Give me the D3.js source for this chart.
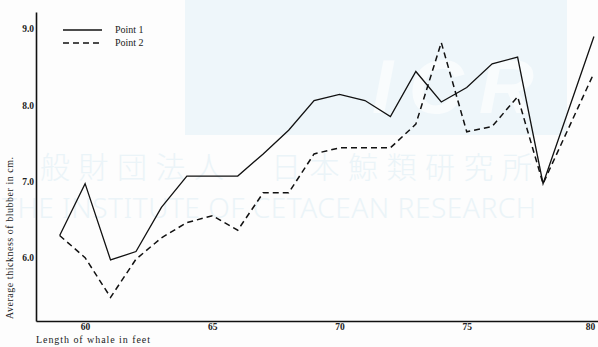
<!DOCTYPE html>
<html>
<head>
<meta charset="utf-8">
<script src="https://cdn.jsdelivr.net/npm/d3@7"></script>
<style>
  body { margin: 0; background: #fdfdfd; }
  svg { display: block; }
  .tick-lbl { font-family: "Liberation Serif", serif; font-size: 9.5px; font-weight: bold; fill: #222; }
  .ax-lbl { font-family: "Liberation Serif", serif; font-size: 10px; fill: #222; }
</style>
</head>
<body>
<svg id="chart" width="598" height="347"></svg>
<script>
// lengths of whale (feet) and blubber thickness (cm)
const lengths = [59, 60, 61, 62, 63, 64, 65, 66, 67, 68, 69, 70, 71, 72, 73, 74, 75, 76, 77, 78, 80];
const point1 = [6.29, 6.97, 5.97, 6.08, 6.66, 7.07, 7.07, 7.07, 7.36, 7.67, 8.06, 8.14, 8.06, 7.85, 8.44, 8.04, 8.23, 8.54, 8.63, 6.97, 8.90];
const point2 = [6.29, 6.00, 5.48, 5.98, 6.26, 6.46, 6.55, 6.36, 6.85, 6.85, 7.36, 7.44, 7.44, 7.44, 7.75, 8.82, 7.65, 7.72, 8.11, 6.97, 8.42];
const xTicks = [60, 65, 70, 75, 80];
const yTicks = [6.0, 7.0, 8.0, 9.0];
const seriesNames = ["Point 1", "Point 2"];

const svg = d3.select("#chart");

// faint watermark from the scan
let wm = svg.append("g");
wm.append("rect").attr("x", 185).attr("y", 0).attr("width", 382).attr("height", 135)
    .attr("fill", "#eef6fa");
wm.append("text").attr("x", 372).attr("y", 113)
    .attr("font-family", "Liberation Sans, sans-serif").attr("font-weight", "bold")
    .attr("font-style", "italic").attr("font-size", 76).attr("fill", "#f9fcfd")
    .attr("textLength", 162).text("ICR");
wm.append("text").attr("x", 40).attr("y", 178)
    .attr("font-family", "Noto Sans CJK JP").attr("font-weight", 300)
    .attr("font-size", 30).attr("fill", "#ebf4f8")
    .attr("textLength", 492).text("般財団法人　日本鯨類研究所");
wm.append("text").attr("x", 2).attr("y", 218)
    .attr("font-family", "Noto Sans").attr("font-weight", 300)
    .attr("font-size", 28).attr("fill", "#ebf4f8")
    .attr("textLength", 534).text("THE INSTITUTE OF CETACEAN RESEARCH");

let x = d3.scaleLinear().domain([58.07, 80.16]).range([36, 598]);
let y = d3.scaleLinear().domain([5.17, 9.22]).range([321, 12]);

// axes
let xAxis = d3.axisBottom(x).tickValues(xTicks).tickSize(0).tickPadding(2)
    .tickFormat(d3.format("d"));
let yAxis = d3.axisLeft(y).tickValues(yTicks).tickSize(0).tickPadding(2)
    .tickFormat(d3.format(".1f"));

let gx = svg.append("g").attr("transform", "translate(0," + 321 + ")").call(xAxis);
gx.select(".domain").attr("stroke", "#111").attr("stroke-width", 1.6);
gx.selectAll("text").attr("class", "tick-lbl").attr("font-size", null).attr("font-family", null)
    .attr("dx", d => d === 80 ? -4 : 0);

let gy = svg.append("g").attr("transform", "translate(36,0)").call(yAxis);
gy.select(".domain").attr("stroke", "#111").attr("stroke-width", 1.6);
gy.selectAll("text").attr("class", "tick-lbl").attr("font-size", null).attr("font-family", null);

// lines
let data = [
    lengths.map((l, i) => ({len: l, v: point1[i]})),
    lengths.map((l, i) => ({len: l, v: point2[i]}))
];
let line = d3.line().x(d => x(d.len)).y(d => y(d.v));

svg.selectAll(".series")
    .data(data)
    .enter().append("path")
    .attr("class", "series")
    .attr("fill", "none")
    .attr("stroke", "#111")
    .attr("stroke-width", (d, i) => i === 0 ? 1.3 : 1.5)
    .attr("stroke-dasharray", (d, i) => i === 0 ? null : "6,4")
    .attr("stroke-linejoin", "miter")
    .attr("d", line);

// legend
let legend = svg.selectAll(".legend")
    .data(seriesNames)
    .enter().append("g")
    .attr("class", "legend")
    .attr("transform", (d, i) => "translate(63," + (30 + i * 13) + ")");

legend.append("line")
    .attr("x1", 0).attr("x2", 39).attr("y1", 0).attr("y2", 0)
    .attr("stroke", "#111")
    .attr("stroke-width", (d, i) => i === 0 ? 1.3 : 1.5)
    .attr("stroke-dasharray", (d, i) => i === 0 ? null : "6,4");

legend.append("text")
    .attr("class", "ax-lbl")
    .attr("x", 52).attr("y", 3)
    .attr("font-size", 8.5)
    .text(d => d);

// axis titles
svg.append("text").attr("class", "ax-lbl")
    .attr("x", 36).attr("y", 343)
    .attr("font-size", 9.5)
    .attr("textLength", 114)
    .text("Length of whale in feet");

svg.append("text").attr("class", "ax-lbl")
    .attr("transform", "translate(13,238) rotate(-90)")
    .attr("text-anchor", "middle")
    .attr("textLength", 162)
    .text("Average thickness of blubber in cm.");
</script>
</body>
</html>
